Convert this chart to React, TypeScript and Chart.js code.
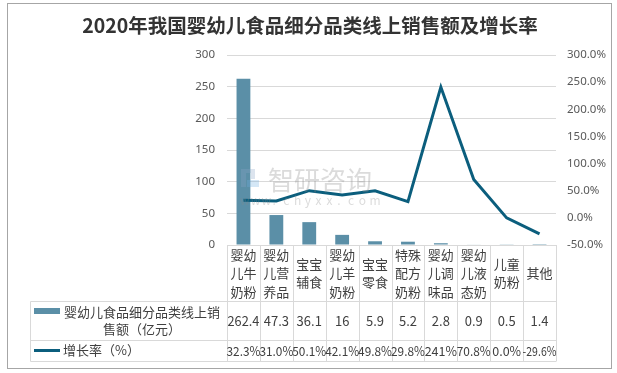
import React, { useEffect, useRef } from "react";
import { Chart, registerables } from "chart.js";

Chart.register(...registerables);

const TITLE = "2020年我国婴幼儿食品细分品类线上销售额及增长率";
const categories = [
  "婴幼儿牛奶粉",
  "婴幼儿营养品",
  "宝宝辅食",
  "婴幼儿羊奶粉",
  "宝宝零食",
  "特殊配方奶粉",
  "婴幼儿调味品",
  "婴幼儿液态奶",
  "儿童奶粉",
  "其他",
];
const salesLabel = "婴幼儿食品细分品类线上销售额（亿元）";
const growthLabel = "增长率（%）";
const sales = [262.4, 47.3, 36.1, 16, 5.9, 5.2, 2.8, 0.9, 0.5, 1.4];
const growth = [32.3, 31.0, 50.1, 42.1, 49.8, 29.8, 241, 70.8, 0.0, -29.6];
const salesText = ["262.4", "47.3", "36.1", "16", "5.9", "5.2", "2.8", "0.9", "0.5", "1.4"];
const growthText = ["32.3%", "31.0%", "50.1%", "42.1%", "49.8%", "29.8%", "241%", "70.8%", "0.0%", "-29.6%"];

const BAR_COLOR = "#5b8fa7";
const LINE_COLOR = "#0b5e7d";
const GRID = "#d9d9d9";
const TEXT = "#404040";
const CJK = '"Noto Sans CJK SC", "Noto Sans", sans-serif';

function chunk(s: string, n: number): string[] {
  const out: string[] = [];
  for (let i = 0; i < s.length; i += n) out.push(s.slice(i, i + n));
  return out;
}

const tablePlugin = {
  id: "tablePlugin",
  afterDatasetsDraw(chart: any) {
    const ctx = chart.ctx as CanvasRenderingContext2D;
    // watermark
    ctx.save();
    ctx.globalAlpha = 0.3;
    ctx.fillStyle = "#8aa6c8";
    ctx.fillRect(241, 169, 5, 18);
    ctx.fillRect(246, 169, 9, 4);
    ctx.fillRect(251, 173, 4, 6);
    ctx.fillStyle = "#6fb0e0";
    ctx.fillRect(247, 180, 12, 7);
    ctx.fillStyle = "#888";
    ctx.font = `26px ${CJK}`;
    ctx.textBaseline = "middle";
    ctx.textAlign = "left";
    ctx.fillText("智研咨询", 268, 180);
    ctx.font = `12px ${CJK}`;
    const www = "www.chyxx.com";
    for (let i = 0; i < www.length; i++) {
      ctx.fillText(www[i], 240 + i * 10.8, 200);
    }
    ctx.restore();
  },
  afterDraw(chart: any) {
    const ctx = chart.ctx as CanvasRenderingContext2D;
    const area = chart.chartArea;
    const xs = chart.scales.x;
    const left = area.left;
    const right = area.right;
    const n = categories.length;
    const w = (right - left) / n;
    const yTop = area.bottom;
    const y1 = 301.5;
    const y2 = 340.5;
    const y3 = 361.5;
    const legL = 30.5;

    ctx.save();
    ctx.strokeStyle = GRID;
    ctx.lineWidth = 1;
    ctx.beginPath();
    for (let i = 0; i <= n; i++) {
      const x = Math.round(left + i * w) + 0.5;
      ctx.moveTo(x, yTop);
      ctx.lineTo(x, y3);
    }
    ctx.moveTo(legL, y1);
    ctx.lineTo(legL, y3);
    [y1, y2, y3].forEach((y) => {
      ctx.moveTo(legL, y);
      ctx.lineTo(right, y);
    });
    ctx.stroke();

    ctx.fillStyle = TEXT;
    ctx.textAlign = "center";
    ctx.textBaseline = "middle";
    ctx.font = `13px ${CJK}`;
    const lh = 18.5;
    categories.forEach((c, i) => {
      const cx = xs.getPixelForValue(i);
      const lines = chunk(c, 2);
      const cy = (yTop + y1) / 2;
      lines.forEach((ln, j) => {
        ctx.fillText(ln, cx, cy + (j - (lines.length - 1) / 2) * lh);
      });
      ctx.fillText(salesText[i], cx, (y1 + y2) / 2, w - 1);
      ctx.font = `12.5px ${CJK}`;
      ctx.fillText(growthText[i], cx, (y2 + y3) / 2 + 0.5, w + 1);
      ctx.font = `13px ${CJK}`;
    });

    // legend
    ctx.fillStyle = BAR_COLOR;
    ctx.fillRect(34, 308, 26, 6);
    ctx.fillStyle = TEXT;
    const legendLines = [salesLabel.slice(0, 12), salesLabel.slice(12)];
    ctx.fillText(legendLines[0], 142, 312);
    ctx.fillText(legendLines[1], 142, 329);
    ctx.strokeStyle = LINE_COLOR;
    ctx.lineWidth = 3;
    ctx.beginPath();
    ctx.moveTo(34, 350.5);
    ctx.lineTo(60, 350.5);
    ctx.stroke();
    ctx.textAlign = "left";
    ctx.fillText(growthLabel, 63, 350.5);

    // title
    ctx.textAlign = "center";
    ctx.fillStyle = "#333333";
    ctx.font = `bold 19.5px ${CJK}`;
    ctx.fillText(TITLE, 310, 26);

    // frame
    ctx.strokeStyle = "#a6a6a6";
    ctx.lineWidth = 1;
    ctx.strokeRect(7.5, 3.5, 604, 365);
    ctx.restore();
  },
};

export default function App() {
  const ref = useRef<HTMLCanvasElement>(null);
  useEffect(() => {
    document.body.style.margin = "0";
    const chart = new Chart(ref.current!, {
      type: "bar",
      data: {
        labels: categories,
        datasets: [
          {
            type: "line",
            label: growthLabel,
            data: growth,
            yAxisID: "y1",
            borderColor: LINE_COLOR,
            backgroundColor: LINE_COLOR,
            borderWidth: 3,
            pointRadius: 0,
            tension: 0,
            order: 0,
          } as any,
          {
            type: "bar",
            label: salesLabel,
            data: sales,
            yAxisID: "y",
            backgroundColor: BAR_COLOR,
            barPercentage: 0.42,
            categoryPercentage: 1,
            order: 1,
          },
        ],
      },
      options: {
        responsive: false,
        animation: false,
        layout: { padding: { left: 0, right: 0, top: 55, bottom: 128 } },
        plugins: {
          legend: { display: false },
          title: { display: false },
          tooltip: { enabled: false },
        },
        scales: {
          x: { display: false },
          y: {
            position: "left",
            min: 0,
            max: 300,
            ticks: {
              stepSize: 50,
              padding: 12,
              color: "#595959",
              font: { size: 11.5, family: '"Noto Sans", sans-serif' },
            },
            grid: { color: GRID, drawTicks: false },
            border: { display: false },
            afterFit: (s: any) => {
              s.width = 227;
            },
          },
          y1: {
            position: "right",
            min: -50,
            max: 300,
            ticks: {
              stepSize: 50,
              padding: 11,
              color: "#595959",
              font: { size: 11.5, family: '"Noto Sans", sans-serif' },
              callback: (v: any) => Number(v).toFixed(1) + "%",
            },
            grid: { display: false, drawTicks: false },
            border: { display: false },
            afterFit: (s: any) => {
              s.width = 61;
            },
          },
        },
      },
      plugins: [tablePlugin],
    });
    return () => chart.destroy();
  }, []);
  return (
    <div style={{ position: "fixed", left: 0, top: 0, width: 617, height: 373 }}>
      <canvas ref={ref} width={617} height={373} style={{ width: 617, height: 373 }} />
    </div>
  );
}
